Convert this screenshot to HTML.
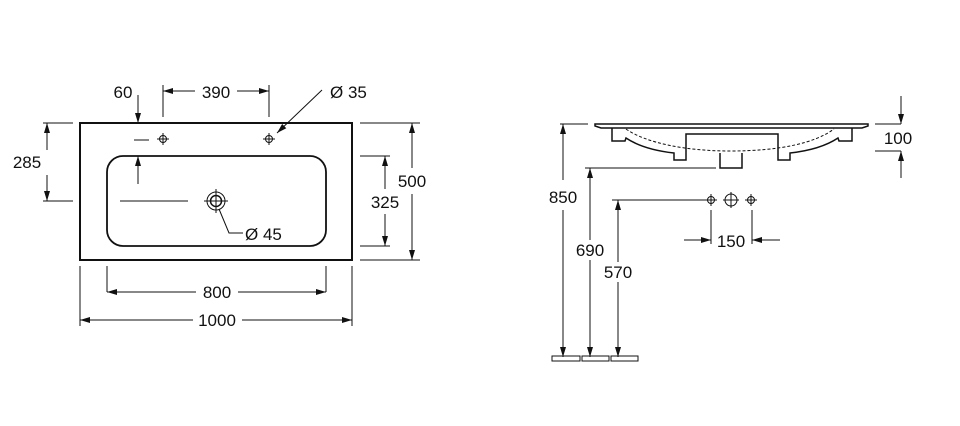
<!DOCTYPE html>
<html><head><style>body{margin:0;background:#fff}svg{display:block}text{font-family:"Liberation Sans",sans-serif;font-size:17px;fill:#111}</style></head><body>
<svg width="960" height="426" viewBox="0 0 960 426" xmlns="http://www.w3.org/2000/svg">
<defs><marker id="a" viewBox="0 0 10 6" refX="10" refY="3" markerWidth="10" markerHeight="6" orient="auto-start-reverse" markerUnits="userSpaceOnUse"><path d="M0,0L10,3L0,6z" fill="#111"/></marker></defs>
<g stroke="#111" fill="none" stroke-width="1">
<rect x="80" y="123" width="272" height="137" stroke-width="2"/>
<rect x="107" y="156" width="219" height="90" rx="16" stroke-width="1.8"/>
<circle cx="216" cy="201" r="9"/><circle cx="216" cy="201" r="5.5" stroke-width="1.5"/>
<path d="M204,201h24M216,189v24M120,201h68"/>
<circle cx="163" cy="139" r="3.5"/><path d="M157,139h12M163,133v12"/>
<circle cx="269" cy="139" r="3.5"/><path d="M263,139h12M269,133v12"/>
<path d="M138,95v28" marker-end="url(#a)"/>
<path d="M138,184v-28" marker-end="url(#a)"/><path d="M134,140h15"/>
<path d="M163,85v32M269,85v32"/>
<path d="M195,91h-32" marker-end="url(#a)"/><path d="M237,91h32" marker-end="url(#a)"/>
<path d="M322,90L277,133" marker-end="url(#a)"/>
<path d="M43,123h30M43,201h30"/>
<path d="M47,150v-27" marker-end="url(#a)"/><path d="M47,175v26" marker-end="url(#a)"/>
<path d="M360,123h60M360,260h60M360,156h30M360,246h30"/>
<path d="M412,168v-45" marker-end="url(#a)"/><path d="M412,194v66" marker-end="url(#a)"/>
<path d="M385,189v-33" marker-end="url(#a)"/><path d="M385,214v32" marker-end="url(#a)"/>
<path d="M219,209L229,233h14"/>
<path d="M107,266v26M326,266v26M80,266v60M352,266v60"/>
<path d="M196,292h-89" marker-end="url(#a)"/><path d="M238,292h88" marker-end="url(#a)"/>
<path d="M193,320h-113" marker-end="url(#a)"/><path d="M242,320h110" marker-end="url(#a)"/>
<!-- right -->
<path d="M595,124h273v2l-6,2h-261l-6,-2z" stroke-width="1.5"/>
<path d="M612,128v13h13l1,-3c12,8 30,13 48,15v7h12v-26h92v26h12v-7c18,-2 36,-7 48,-15l1,3h13v-13" stroke-width="1.5"/>
<path d="M720,153v15h22v-15" stroke-width="1.5"/>
<path d="M626,129c20,14 60,22 104,22c50,0 85,-8 104,-22" stroke-dasharray="3,2"/>
<path d="M560,124h28M585,168h131M612,200h93M875,124h26M875,151h26"/>
<path d="M563,180v-56" marker-end="url(#a)"/><path d="M563,210v147" marker-end="url(#a)"/>
<path d="M590,240v-72" marker-end="url(#a)"/><path d="M590,260v97" marker-end="url(#a)"/>
<path d="M618,262v-62" marker-end="url(#a)"/><path d="M618,282v75" marker-end="url(#a)"/>
<path d="M901,96v28" marker-end="url(#a)"/><path d="M901,178v-27" marker-end="url(#a)"/>
<circle cx="711" cy="200" r="3.5"/><path d="M705,200h12M711,194v12"/>
<circle cx="731" cy="200" r="6"/><path d="M723,200h16M731,192v16"/>
<circle cx="751" cy="200" r="3.5"/><path d="M745,200h12M751,194v12"/>
<path d="M711,210v34M752,210v34"/>
<path d="M684,240h27" marker-end="url(#a)"/><path d="M780,240h-28" marker-end="url(#a)"/>
<rect x="552" y="356" width="28" height="5"/><rect x="582" y="356" width="27" height="5"/><rect x="611" y="356" width="27" height="5"/>
</g>
<text x="123" y="98" text-anchor="middle">60</text>
<text x="216" y="98" text-anchor="middle">390</text>
<text x="330" y="98">Ø 35</text>
<text x="27" y="168" text-anchor="middle">285</text>
<text x="412" y="187" text-anchor="middle">500</text>
<text x="385" y="208" text-anchor="middle">325</text>
<text x="245" y="240">Ø 45</text>
<text x="217" y="298" text-anchor="middle">800</text>
<text x="217" y="326" text-anchor="middle">1000</text>
<text x="563" y="203" text-anchor="middle">850</text>
<text x="590" y="256" text-anchor="middle">690</text>
<text x="618" y="278" text-anchor="middle">570</text>
<text x="731" y="247" text-anchor="middle">150</text>
<text x="898" y="144" text-anchor="middle">100</text>
</svg>
</body></html>
